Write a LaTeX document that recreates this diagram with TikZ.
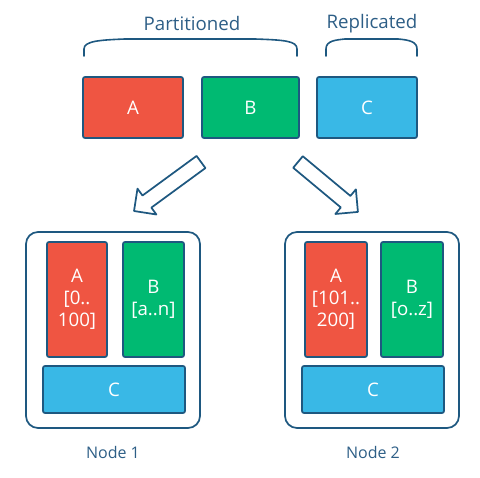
\documentclass[tikz,border=0pt]{standalone}
\usepackage{fontspec}
\setmainfont{Open Sans}
\definecolor{cred}{HTML}{EF5542}
\definecolor{cgreen}{HTML}{00BA72}
\definecolor{cblue}{HTML}{39B8E6}
\definecolor{cline}{HTML}{1E5880}
\definecolor{ctext}{HTML}{2D5E86}
\tikzset{
  box/.style={draw=cline, line width=1.3pt, rounded corners=1.5pt, inner sep=0pt, text=white,
    font=\fontsize{14}{16.5}\selectfont, align=center},
  redbox/.style={box, fill=cred},
  greenbox/.style={box, fill=cgreen},
  bluebox/.style={box, fill=cblue},
  outer/.style={draw=cline, line width=1.3pt, rounded corners=9pt, fill=white, inner sep=0pt},
  title/.style={text=ctext, font=\fontsize{14}{16}\selectfont},
  nodelabel/.style={text=ctext, font=\fontsize{12}{14}\selectfont},
  brace/.style={draw=cline, line width=1.2pt, line cap=round},
  blockarrow/.style={draw=cline, line width=1.3pt, fill=white, line join=round},
}
\newcommand\blockarrowpath[1]{% #1 = length in px
  (0,-7.5) -- (#1-16,-7.5) -- (#1-16,-16) -- (#1,0) -- (#1-16,16) -- (#1-16,7.5) -- (0,7.5) -- cycle}
\begin{document}
\begin{tikzpicture}[x=0.75pt,y=-0.75pt]
\useasboundingbox (0,0) rectangle (480,478);
% titles
\node[title] (part) at (192,24) {Partitioned};
\node[title] (repl) at (372,24) {Replicated};
\path[brace] (84,56) -- (84,49) .. controls (84,41) and (100,40) .. (125,39) -- (255,39) .. controls (285,40) and (297,41) .. (297,49) -- (297,56);
\path[brace] (326,56) -- (326,49) .. controls (326,41) and (335,40) .. (345,39) -- (398,39) .. controls (410,40) and (417,42) .. (417,49) -- (417,56);
% top boxes
\node[redbox, minimum width=75pt, minimum height=45.75pt] (A) at (133,107.5) {A};
\node[greenbox, minimum width=72.75pt, minimum height=45.75pt] (B) at (250.5,107.5) {B};
\node[bluebox, minimum width=75pt, minimum height=45.75pt] (C) at (367,107.5) {C};
% block arrows
\coordinate (arrLstart) at (201,162);
\coordinate (arrRstart) at (298,162);
\begin{scope}[shift={(arrLstart)}, rotate=216.2]
  \path[blockarrow] \blockarrowpath{83};
\end{scope}
\begin{scope}[shift={(arrRstart)}, rotate=-39.8]
  \path[blockarrow] \blockarrowpath{78};
\end{scope}
% node 1
\node[outer, minimum width=130.5pt, minimum height=147pt] (n1) at (113,330) {};
\node[redbox, minimum width=45pt, minimum height=86.25pt] (n1A) at (77,299.5) {A\\{}[0..\\100]};
\node[greenbox, minimum width=45.75pt, minimum height=86.25pt] (n1B) at (153.5,299.5) {B\\{}[a..n]};
\node[bluebox, minimum width=106.5pt, minimum height=35.25pt] (n1C) at (114,389.5) {C};
\node[nodelabel] (l1) at (113,453) {Node 1};
% node 2
\node[outer, minimum width=130.5pt, minimum height=147pt] (n2) at (372,330) {};
\node[redbox, minimum width=46.5pt, minimum height=86.25pt] (n2A) at (336,299.5) {A\\{}[101..\\200]};
\node[greenbox, minimum width=46.5pt, minimum height=86.25pt] (n2B) at (412,299.5) {B\\{}[o..z]};
\node[bluebox, minimum width=106.5pt, minimum height=35.25pt] (n2C) at (373,389.5) {C};
\node[nodelabel] (l2) at (373,453) {Node 2};
\end{tikzpicture}
\end{document}
